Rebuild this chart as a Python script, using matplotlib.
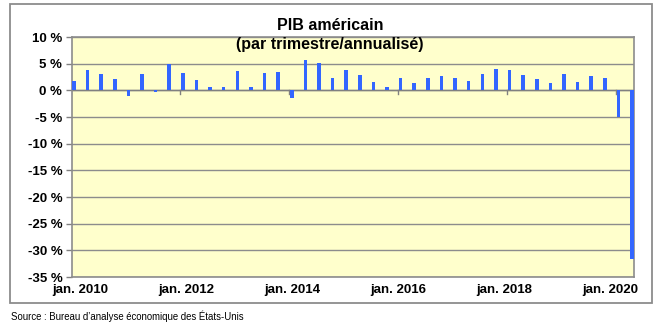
import matplotlib
matplotlib.use("Agg")
import matplotlib.pyplot as plt
from matplotlib.patches import Rectangle

# Quarterly US GDP growth, annualised (%), 2010 Q1 .. 2020 Q2
quarters = [f"{y}T{q}" for y in range(2010, 2021) for q in range(1, 5)][:42]
growth = [1.7, 3.8, 3.1, 2.1, -1.1, 3.1, -0.3, 4.9,
          3.3, 1.9, 0.6, 0.6, 3.7, 0.6, 3.3, 3.4,
          -1.4, 5.6, 5.1, 2.4, 3.9, 2.9, 1.6, 0.7,
          2.4, 1.4, 2.3, 2.6, 2.4, 1.8, 3.1, 4.0,
          3.9, 2.8, 2.2, 1.4, 3.1, 1.6, 2.6, 2.4,
          -5.0, -31.7]
tick_labels = ["jan. 2010", "jan. 2012", "jan. 2014", "jan. 2016", "jan. 2018", "jan. 2020"]
tick_index = [0, 8, 16, 24, 32, 40]
y_ticks = [10, 5, 0, -5, -10, -15, -20, -25, -30, -35]

plt.rcParams["font.family"] = ["Liberation Sans", "DejaVu Sans"]

fig = plt.figure(figsize=(6.6, 3.33), dpi=100)
ax = fig.add_axes([72 / 660, 56 / 333, 562 / 660, 240 / 333])
ax.set_facecolor("#ffffcc")

x = list(range(len(growth)))
ax.bar(x, growth, width=0.26, color="#3366ff", zorder=3)

ax.set_ylim(-35, 10)
ax.set_xlim(-0.14, len(growth) - 1 + 0.14)
ax.set_yticks(y_ticks)
ax.set_yticklabels([f"{v} %" for v in y_ticks], fontsize=9.5, fontweight="bold")
ax.yaxis.grid(True, color="#8c8c8c", linewidth=1.0, zorder=1)
ax.axhline(0, color="#808080", linewidth=1.0, zorder=2)
ax.tick_params(axis="y", length=4, width=1, color="#808080", pad=3)

# category labels sit at the bottom; small ticks cross the zero line
ax.set_xticks([])
n_lab = len(tick_labels)
for k, (i, lab) in enumerate(zip(tick_index, tick_labels)):
    shift = 0.5 - 1.1 * k / (n_lab - 1)
    ax.text(i + shift, -36.3, lab, ha="center", va="top", fontsize=9.5,
            fontweight="bold", clip_on=False)
    ax.plot([i - 0.2, i - 0.2], [0, -0.6], color="#808080", linewidth=1, zorder=2)

for s in ax.spines.values():
    s.set_color("#8c8c8c")
    s.set_linewidth(1.2)

fig.text(0.5, 1 - 26 / 333, "PIB américain", ha="center", va="center",
         fontsize=11.5, fontweight="bold")
fig.text(0.5, 1 - 44 / 333, "(par trimestre/annualisé)", ha="center", va="center",
         fontsize=11.5, fontweight="bold", zorder=5)

# outer frame
fig.patches.append(Rectangle((10 / 660, 1 - 303 / 333), 642 / 660, 299 / 333,
                             transform=fig.transFigure, fill=False,
                             edgecolor="#8c8c8c", linewidth=1.3))

fig.text(11 / 660, 1 - 316 / 333, "Source : Bureau d’analyse économique des États-Unis",
         ha="left", va="center", fontsize=6.9,
         family=["Liberation Sans Narrow", "Liberation Sans", "DejaVu Sans"])

fig.savefig("out.png", dpi=100)
